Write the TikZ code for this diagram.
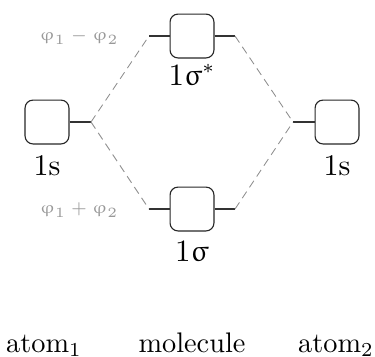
\documentclass[tikz,border=0pt]{standalone}
\usepackage{upgreek}
\usetikzlibrary{positioning}
\begin{document}
\begin{tikzpicture}[x=0.3533pt, y=-0.3533pt,
   orb/.style = {draw=black!85, rounded corners=2.8pt, minimum size=15.5pt, inner sep=0pt},
   lvl/.style = {draw=black!80, line width=0.5pt},
   cor/.style = {draw=black!45, dash pattern=on 2.8pt off 1.8pt, line width=0.3pt},
   nm/.style  = {anchor=base},
   ol/.style  = {anchor=base, font=\fontsize{10.6}{12}\selectfont},
   wf/.style  = {font=\fontsize{6}{7}\selectfont, text=black!40}]

  \useasboundingbox (0,0) rectangle (375,356);

  % ---- orbitals ------------------------------------------------------------
  \node[orb] (s1) at (47,122)  {};
  \node[orb] (ss) at (192,36)  {};
  \node[orb] (sg) at (192,209) {};
  \node[orb] (s2) at (337,122) {};

  \coordinate (s1r) at (91,122);
  \coordinate (ssl) at (149,36);
  \coordinate (ssr) at (235,36);
  \coordinate (sgl) at (149,209);
  \coordinate (sgr) at (235,209);
  \coordinate (s2l) at (293,122);

  % levels
  \draw[lvl] (s1.east) -- (s1r);
  \draw[lvl] (ssl) -- (ss.west);
  \draw[lvl] (ss.east) -- (ssr);
  \draw[lvl] (sgl) -- (sg.west);
  \draw[lvl] (sg.east) -- (sgr);
  \draw[lvl] (s2l) -- (s2.west);

  % correlation lines
  \draw[cor] (s1r) -- (ssl);
  \draw[cor] (s1r) -- (sgl);
  \draw[cor] (ssr) -- (s2l);
  \draw[cor] (sgr) -- (s2l);

  % ---- labels --------------------------------------------------------------
  \node[ol] (s1lab) at (47,175)  {1s};
  \node[ol] (sslab) at (192,85)  {$1\upsigma^*$};
  \node[ol] (sglab) at (192,261) {$1\upsigma$};
  \node[ol] (s2lab) at (337,175) {1s};

  \node[wf] (wfa) at (79,37)  {$\upvarphi_1-\upvarphi_2$};
  \node[wf] (wfb) at (79,210) {$\upvarphi_1+\upvarphi_2$};

  \node[nm] (at1) at (44,352)  {atom$_1$};
  \node[nm] (mol) at (192,352) {molecule};
  \node[nm] (at2) at (336,352) {atom$_2$};
\end{tikzpicture}
\end{document}
